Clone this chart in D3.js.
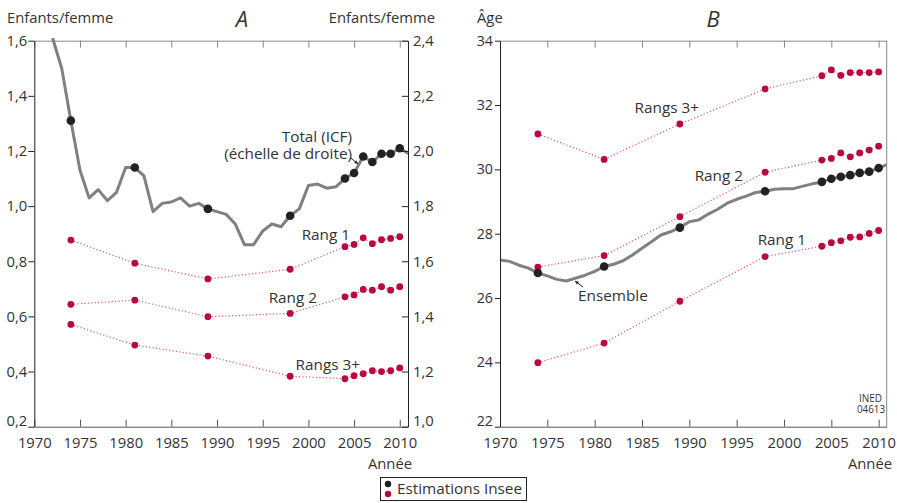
<!DOCTYPE html>
<meta charset="utf-8">
<script src="https://d3js.org/d3.v7.min.js"></script>
<style>
  body { margin: 0; background: #fff; }
  text { font-family: "Open Sans", "Noto Sans", sans-serif; fill: #333; }
</style>
<div id="chart"></div>
<script>

// survey years (Insee estimates)
var surveyYears = [1974, 1981, 1989, 1998, 2004, 2005, 2006, 2007, 2008, 2009, 2010];

// Panel A : completed fertility by birth order (left scale)
var rang1A  = [0.877, 0.793, 0.736, 0.771, 0.853, 0.861, 0.885, 0.864, 0.878, 0.883, 0.889];
var rang2A  = [0.644, 0.659, 0.599, 0.611, 0.671, 0.678, 0.698, 0.695, 0.708, 0.695, 0.708];
var rang3A  = [0.571, 0.496, 0.456, 0.383, 0.374, 0.385, 0.392, 0.403, 0.400, 0.403, 0.413];

// Panel A : total fertility rate ICF (right scale)
var icfYears = [1972, 1973, 1974, 1975, 1976, 1977, 1978, 1979, 1980, 1981, 1982, 1983, 1984, 1985,
                1986, 1987, 1988, 1989, 1990, 1991, 1992, 1993, 1994, 1995, 1996, 1997, 1998, 1999,
                2000, 2001, 2002, 2003, 2004, 2005, 2006, 2007, 2008, 2009, 2010, 2011];
var icfValues = [2.41, 2.30, 2.11, 1.93, 1.83, 1.86, 1.82, 1.85, 1.94, 1.94, 1.91, 1.78, 1.81, 1.815,
                 1.83, 1.80, 1.81, 1.79, 1.78, 1.77, 1.735, 1.66, 1.66, 1.71, 1.735, 1.725, 1.765, 1.79,
                 1.875, 1.88, 1.865, 1.87, 1.90, 1.92, 1.98, 1.96, 1.99, 1.99, 2.01, 1.99];

// Panel B : mean age at birth by order
var rang1B = [23.99, 24.60, 25.90, 27.29, 27.61, 27.72, 27.78, 27.89, 27.90, 28.01, 28.10];
var rang2B = [26.96, 27.32, 28.53, 29.91, 30.29, 30.34, 30.51, 30.39, 30.51, 30.60, 30.72];
var rang3B = [31.10, 30.31, 31.41, 32.50, 32.91, 33.09, 32.92, 33.01, 33.01, 33.01, 33.03];

// Panel B : mean age, all orders
var ageYears = [1970, 1971, 1972, 1973, 1974, 1975, 1976, 1977, 1978, 1979, 1980, 1981, 1982, 1983,
                1984, 1985, 1986, 1987, 1988, 1989, 1990, 1991, 1992, 1993, 1994, 1995, 1996, 1997,
                1998, 1999, 2000, 2001, 2002, 2003, 2004, 2005, 2006, 2007, 2008, 2009, 2010, 2011];
var ageValues = [27.18, 27.14, 27.02, 26.93, 26.78, 26.69, 26.58, 26.53, 26.62, 26.71, 26.83, 26.98, 27.05, 27.16,
                 27.34, 27.55, 27.75, 27.96, 28.06, 28.19, 28.37, 28.43, 28.61, 28.76, 28.95, 29.07, 29.17, 29.28,
                 29.32, 29.38, 29.40, 29.40, 29.48, 29.55, 29.61, 29.71, 29.77, 29.82, 29.89, 29.93, 30.04, 30.16];

var xTicks = [1970, 1975, 1980, 1985, 1990, 1995, 2000, 2005, 2010];
var leftTicksA = [0.2, 0.4, 0.6, 0.8, 1.0, 1.2, 1.4, 1.6];
var rightTicksA = [1.0, 1.2, 1.4, 1.6, 1.8, 2.0, 2.2, 2.4];
var ticksB = [22, 24, 26, 28, 30, 32, 34];

var crimson = "#b8083e", pink = "#e0507e", grey = "#808080", dark = "#222";

var fr = d3.formatLocale({decimal: ",", thousands: " ", grouping: [3], currency: ["", "€"]});
var f1 = fr.format(".1f");

var svg = d3.select("#chart").append("svg")
  .attr("width", 897).attr("height", 503);

var plotTop = 40.7, plotBottom = 426.7;

function dotted(g, x, y, vals) {
  var pts = surveyYears.map(function(d, i) { return [d, vals[i]]; });
  g.append("path").datum(pts)
    .attr("fill", "none").attr("stroke", pink).attr("stroke-width", 1.2)
    .attr("stroke-dasharray", "1.2,2.2")
    .attr("d", d3.line().x(function(d) { return x(d[0]); }).y(function(d) { return y(d[1]); }));
  g.selectAll(null).data(pts).enter().append("circle")
    .attr("cx", function(d) { return x(d[0]); })
    .attr("cy", function(d) { return y(d[1]); })
    .attr("r", 3.4).attr("fill", crimson);
}

function styleAxis(g, col) {
  g.select(".domain").attr("stroke", col);
  g.selectAll(".tick line").attr("stroke", col);
  g.selectAll("text").attr("font-size", 14.8).attr("fill", "#333").attr("font-family", null);
}

// lowest tick label sits a little higher, clear of the year labels
function liftFirst(g) {
  g.selectAll(".tick text").filter(function(d, i) { return i === 0; }).attr("dy", "-0.05em");
}

function label(x, y, t, anchor, size) {
  return svg.append("text").attr("x", x).attr("y", y)
    .attr("text-anchor", anchor || "start")
    .attr("font-size", size || 15.3).text(t);
}

function arrow(x1, y1, x2, y2) {
  svg.append("line").attr("x1", x1).attr("y1", y1).attr("x2", x2).attr("y2", y2)
    .attr("stroke", dark).attr("stroke-width", 1);
  var a = Math.atan2(y2 - y1, x2 - x1), s = 4;
  var p = [[x2, y2],
           [x2 - s * Math.cos(a - 0.45), y2 - s * Math.sin(a - 0.45)],
           [x2 - s * Math.cos(a + 0.45), y2 - s * Math.sin(a + 0.45)]];
  svg.append("path").attr("d", "M" + p.join("L") + "Z").attr("fill", dark);
}

// ---------- Panel A ----------
var xA = d3.scaleLinear().domain([1970, 2010.9]).range([34.3, 408]);
var yL = d3.scaleLinear().domain([0.2, 1.6]).range([plotBottom, plotTop]);
var yR = d3.scaleLinear().domain([1.0, 2.4]).range([plotBottom, plotTop]);

svg.append("clipPath").attr("id", "clipA").append("rect")
  .attr("x", xA.range()[0]).attr("y", plotTop - 3)
  .attr("width", xA.range()[1] - xA.range()[0]).attr("height", plotBottom - plotTop + 3);

var gTopA = svg.append("g").attr("transform", "translate(0," + plotTop + ")")
  .call(d3.axisTop(xA).tickValues(xTicks).tickSize(-7).tickSizeOuter(0).tickFormat(""));
styleAxis(gTopA, "#888");

var gA = svg.append("g");
dotted(gA, xA, yL, rang1A);
dotted(gA, xA, yL, rang2A);
dotted(gA, xA, yL, rang3A);

svg.append("path").datum(icfYears.map(function(d, i) { return [d, icfValues[i]]; }))
  .attr("clip-path", "url(#clipA)")
  .attr("fill", "none").attr("stroke", grey).attr("stroke-width", 3).attr("stroke-linejoin", "round")
  .attr("d", d3.line().x(function(d) { return xA(d[0]); }).y(function(d) { return yR(d[1]); }));

svg.append("g").selectAll(null).data(surveyYears).enter().append("circle")
  .attr("cx", function(d) { return xA(d); })
  .attr("cy", function(d) { return yR(icfValues[icfYears.indexOf(d)]); })
  .attr("r", 4.3).attr("fill", dark);

var gBotA = svg.append("g").attr("transform", "translate(0," + plotBottom + ")")
  .call(d3.axisBottom(xA).tickValues(xTicks).tickSize(-7).tickSizeOuter(0).tickPadding(11).tickFormat(d3.format("d")));
styleAxis(gBotA, "#555");

var gLeftA = svg.append("g").attr("transform", "translate(" + xA.range()[0] + ",0)")
  .call(d3.axisLeft(yL).tickValues(leftTicksA).tickSize(6).tickSizeOuter(0).tickPadding(1).tickFormat(f1));
styleAxis(gLeftA, "#222");
liftFirst(gLeftA);

var gRightA = svg.append("g").attr("transform", "translate(" + xA.range()[1] + ",0)")
  .call(d3.axisRight(yR).tickValues(rightTicksA).tickSize(-6).tickSizeOuter(0).tickPadding(5).tickFormat(f1));
styleAxis(gRightA, "#222");
liftFirst(gRightA);

label(7, 23, "Enfants/femme", "start", 14.8);
label(435, 23, "Enfants/femme", "end", 14.8);
label(242, 27, "A", "middle", 22).attr("font-style", "italic").attr("fill", crimson);
label(352, 142, "Total (ICF)", "end");
label(352, 159, "(échelle de droite)", "end");
arrow(351, 158, 358, 164);
label(350, 240, "Rang 1", "end");
label(317, 303, "Rang 2", "end");
label(360, 370, "Rangs 3+", "end");
label(412, 469, "Année", "end", 14.8);

// ---------- Panel B ----------
var xB = d3.scaleLinear().domain([1970, 2010.85]).range([500, 886.7]);
var yB = d3.scaleLinear().domain([22, 34]).range([plotBottom, plotTop]);

svg.append("clipPath").attr("id", "clipB").append("rect")
  .attr("x", xB.range()[0]).attr("y", plotTop)
  .attr("width", xB.range()[1] - xB.range()[0]).attr("height", plotBottom - plotTop);

var gTopB = svg.append("g").attr("transform", "translate(0," + plotTop + ")")
  .call(d3.axisTop(xB).tickValues(xTicks).tickSize(-7).tickSizeOuter(0).tickFormat(""));
styleAxis(gTopB, "#888");

svg.append("line").attr("x1", xB.range()[1]).attr("x2", xB.range()[1])
  .attr("y1", plotTop).attr("y2", plotBottom).attr("stroke", "#888");

var gB = svg.append("g");
dotted(gB, xB, yB, rang1B);
dotted(gB, xB, yB, rang2B);
dotted(gB, xB, yB, rang3B);

svg.append("path").datum(ageYears.map(function(d, i) { return [d, ageValues[i]]; }))
  .attr("clip-path", "url(#clipB)")
  .attr("fill", "none").attr("stroke", grey).attr("stroke-width", 3).attr("stroke-linejoin", "round")
  .attr("d", d3.line().x(function(d) { return xB(d[0]); }).y(function(d) { return yB(d[1]); }));

svg.append("g").selectAll(null).data(surveyYears).enter().append("circle")
  .attr("cx", function(d) { return xB(d); })
  .attr("cy", function(d) { return yB(ageValues[ageYears.indexOf(d)]); })
  .attr("r", 4.3).attr("fill", dark);

var gBotB = svg.append("g").attr("transform", "translate(0," + plotBottom + ")")
  .call(d3.axisBottom(xB).tickValues(xTicks).tickSize(-7).tickSizeOuter(0).tickPadding(11).tickFormat(d3.format("d")));
styleAxis(gBotB, "#555");

var gLeftB = svg.append("g").attr("transform", "translate(" + xB.range()[0] + ",0)")
  .call(d3.axisLeft(yB).tickValues(ticksB).tickSize(5).tickSizeOuter(0).tickPadding(2).tickFormat(d3.format("d")));
styleAxis(gLeftB, "#222");
gLeftB.selectAll("text").attr("font-size", 14.3);
liftFirst(gLeftB);

label(477, 23, "Âge", "start", 14.8);
label(713, 27, "B", "middle", 22).attr("font-style", "italic").attr("fill", crimson);
label(699, 113, "Rangs 3+", "end");
label(743, 181, "Rang 2", "end");
label(806, 245, "Rang 1", "end");
label(578, 301, "Ensemble");
arrow(583, 287, 575, 281);
label(882, 401.5, "INED", "end", 10.5)
  .attr("font-family", "'DejaVu Sans Condensed', 'Liberation Sans Narrow', sans-serif")
  .attr("textLength", 23).attr("lengthAdjust", "spacingAndGlyphs");
label(885, 413.3, "04613", "end", 10.5)
  .attr("font-family", "'DejaVu Sans Condensed', 'Liberation Sans Narrow', sans-serif")
  .attr("textLength", 28).attr("lengthAdjust", "spacingAndGlyphs");
label(892, 469, "Année", "end", 14.8);

// ---------- legend ----------
svg.append("rect").attr("x", 380.5).attr("y", 477.5).attr("width", 146).attr("height", 23)
  .attr("fill", "#fff").attr("stroke", "#222").attr("stroke-width", 1);
svg.append("circle").attr("cx", 388).attr("cy", 484).attr("r", 3.2).attr("fill", dark);
svg.append("circle").attr("cx", 388).attr("cy", 494).attr("r", 3.2).attr("fill", crimson);
label(397, 494, "Estimations Insee", "start", 15.3);

</script>
